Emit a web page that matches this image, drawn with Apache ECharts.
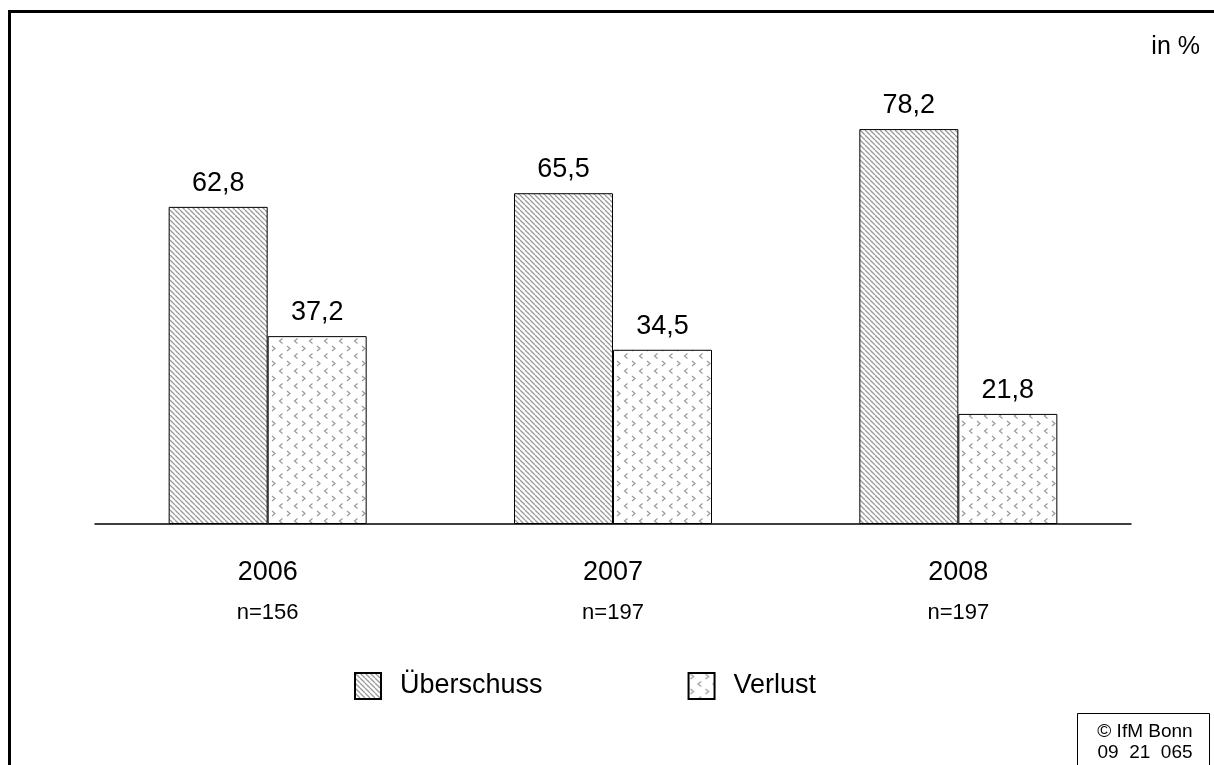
<!DOCTYPE html>
<html>
<head>
<meta charset="utf-8">
<script src="https://cdn.jsdelivr.net/npm/echarts@6/dist/echarts.min.js"></script>
<style>
html,body{margin:0;padding:0;background:#fff;}
#chart{width:1214px;height:765px;}
</style>
</head>
<body>
<div id="chart"></div>
<script>
const years = ['2006', '2007', '2008'];
const sampleSizes = ['n=156', 'n=197', 'n=197'];
const surplus = [62.8, 65.5, 78.2];
const loss = [37.2, 34.5, 21.8];
const seriesNames = ['Überschuss', 'Verlust'];
const unitLabel = 'in %';
const copyright = '© IfM Bonn\n09  21  065';

const FONT = 'Liberation Sans, Arial, sans-serif';

function stripeCanvas() {
  const c = document.createElement('canvas');
  c.width = 5; c.height = 5;
  const ctx = c.getContext('2d');
  ctx.fillStyle = '#fff';
  ctx.fillRect(0, 0, 5, 5);
  ctx.strokeStyle = '#9a9a9a';
  ctx.lineWidth = 1.3;
  for (let o = -5; o <= 5; o += 5) {
    ctx.beginPath();
    ctx.moveTo(o, 0);
    ctx.lineTo(o + 5, 5);
    ctx.stroke();
  }
  return c;
}
function chevronCanvas() {
  const c = document.createElement('canvas');
  c.width = 15; c.height = 15;
  const ctx = c.getContext('2d');
  ctx.fillStyle = '#fff';
  ctx.fillRect(0, 0, 15, 15);
  ctx.strokeStyle = '#9a9a9a';
  ctx.lineWidth = 1.2;
  function gt(x, y) { ctx.beginPath(); ctx.moveTo(x, y); ctx.lineTo(x + 3, y + 2.5); ctx.lineTo(x, y + 5); ctx.stroke(); }
  function lt(x, y) { ctx.beginPath(); ctx.moveTo(x + 3, y); ctx.lineTo(x, y + 2.5); ctx.lineTo(x + 3, y + 5); ctx.stroke(); }
  gt(2, 1);
  lt(9.5, 8.5);
  return c;
}

const chart = echarts.init(document.getElementById('chart'));
const fmt = p => String(p.value.toFixed(1)).replace('.', ',');
chart.setOption({
  animation: false,
  backgroundColor: '#fff',
  textStyle: { fontFamily: FONT, color: '#000' },
  grid: { left: 95, right: 83, top: 19, bottom: 241 },
  legend: {
    left: 349, top: 667,
    itemWidth: 26, itemHeight: 26, itemGap: 145,
    textStyle: { fontSize: 27, color: '#000', fontFamily: FONT, padding: [0, 0, 0, 14] },
    icon: 'rect',
    data: seriesNames
  },
  xAxis: {
    type: 'category',
    data: years,
    axisLine: { lineStyle: { color: '#000', width: 1.5 } },
    axisTick: { show: false },
    axisLabel: {
      margin: 35,
      fontSize: 27,
      color: '#000',
      lineHeight: 28,
      fontFamily: FONT,
      formatter: (v, i) => v + '\n{n|' + sampleSizes[i] + '}',
      rich: { n: { fontSize: 22, lineHeight: 52, color: '#000', fontFamily: FONT, verticalAlign: 'middle' } }
    }
  },
  yAxis: { type: 'value', min: 0, max: 100, show: false, splitLine: { show: false } },
  series: [
    {
      name: seriesNames[0], type: 'bar', data: surplus,
      barWidth: 99, barGap: '0%',
      itemStyle: { color: { image: stripeCanvas(), repeat: 'repeat' }, borderColor: '#000', borderWidth: 1 },
      label: { show: true, position: 'top', distance: 10, fontSize: 27, color: '#000', fontFamily: FONT, formatter: fmt }
    },
    {
      name: seriesNames[1], type: 'bar', data: loss,
      barWidth: 99, barGap: '0%',
      itemStyle: { color: { image: chevronCanvas(), repeat: 'repeat' }, borderColor: '#000', borderWidth: 1 },
      label: { show: true, position: 'top', distance: 10, fontSize: 27, color: '#000', fontFamily: FONT, formatter: fmt }
    }
  ],
  graphic: [
    { type: 'rect', shape: { x: 9.5, y: 11.5, width: 1400, height: 900 }, style: { fill: 'none', stroke: '#000', lineWidth: 3 }, silent: true },
    { type: 'text', x: 1200, y: 47, style: { text: unitLabel, fontSize: 25, fill: '#000', fontFamily: FONT, textAlign: 'right', textVerticalAlign: 'middle' } },
    { type: 'rect', shape: { x: 1077.5, y: 713.5, width: 132, height: 100 }, style: { fill: '#fff', stroke: '#000', lineWidth: 1 } },
    { type: 'text', x: 1145, y: 742.5, style: { text: copyright, fontSize: 19, lineHeight: 21, fill: '#000', fontFamily: FONT, textAlign: 'center', textVerticalAlign: 'middle' } }
  ]
});
</script>
</body>
</html>
